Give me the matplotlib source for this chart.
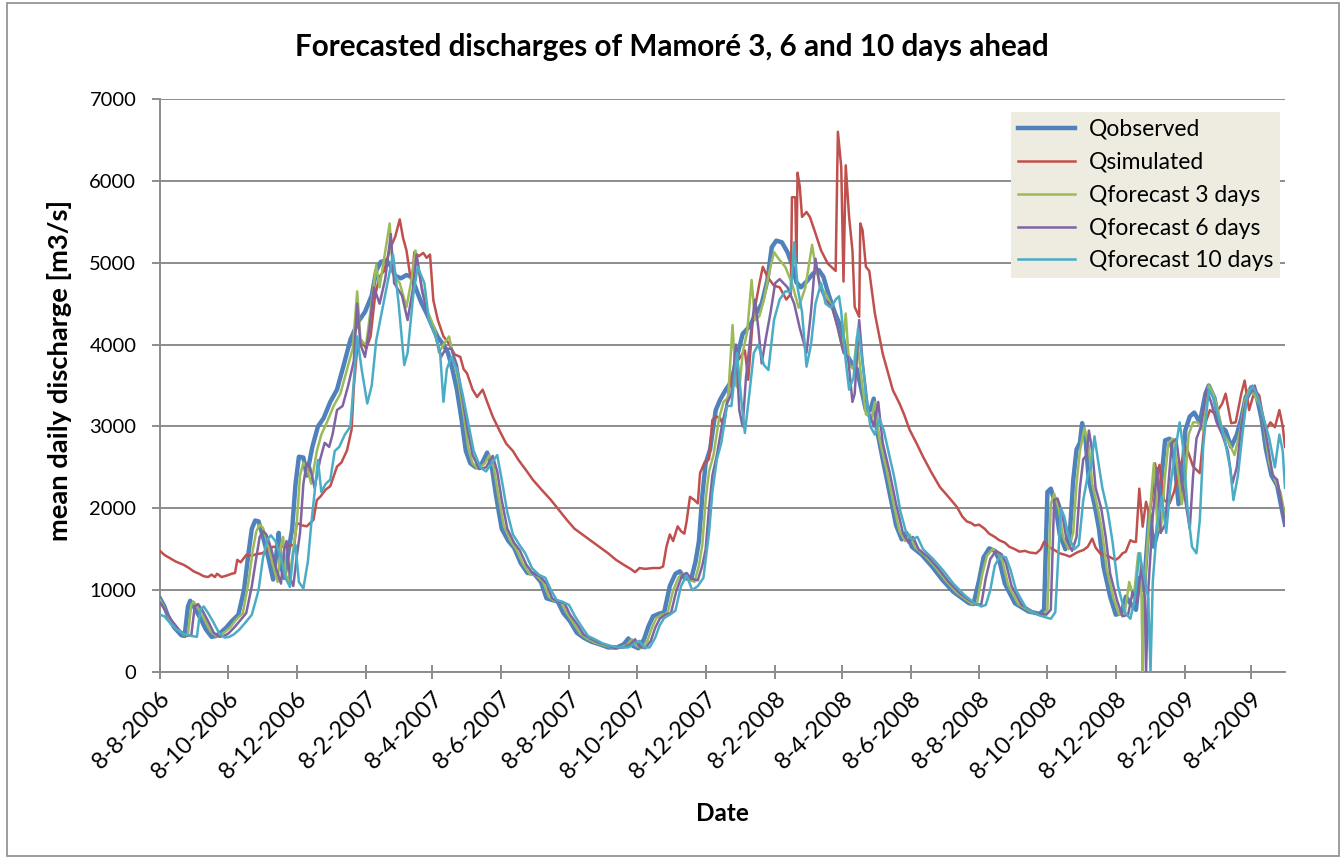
import datetime as dt
import matplotlib
matplotlib.use("Agg")
import matplotlib.pyplot as plt
import matplotlib.dates as mdates
from matplotlib.patches import Rectangle

plt.rcParams['font.family'] = ['Lato', 'DejaVu Sans']

start = dt.date(2006, 8, 8)

# observed discharge (day offset from 8-8-2006, m3/s)
obs_day = [0, 4, 8, 13, 19, 22, 25, 27, 31, 36, 41, 46, 50, 54, 59, 64, 70, 75, 79, 82, 85, 88, 92, 97, 101,
           104, 106, 108, 111, 115, 118, 121, 124, 128, 131, 136, 141, 146, 152, 158, 164, 170, 177, 183, 189,
           193, 197, 202, 206, 210, 215, 220, 224, 228, 233, 238, 243, 248, 253, 257, 261, 265, 269, 273, 277,
           282, 287, 292, 296, 300, 305, 311, 316, 322, 328, 334, 340, 345, 350, 355, 360, 366, 372, 378, 385,
           392, 400, 408, 414, 418, 422, 427, 432, 436, 440, 445, 450, 455, 460, 464, 468, 474, 478, 481, 484,
           487, 491, 496, 500, 505, 510, 515, 520, 526, 532, 537, 542, 546, 550, 555, 560, 564, 568, 572, 577,
           583, 588, 592, 597, 602, 608, 612, 617, 622, 626, 630, 634, 637, 640, 645, 651, 657, 662, 666, 671,
           680, 689, 698, 708, 716, 722, 726, 731, 735, 740, 745, 749, 754, 763, 775, 785, 789, 792, 795, 799,
           803, 808, 812, 815, 818, 821, 823, 826, 829, 834, 838, 842, 848, 853, 858, 862, 866, 871, 874, 878,
           883, 887, 890, 894, 897, 901, 905, 909, 912, 915, 919, 923, 928, 933, 936, 941, 946, 951, 956, 961,
           965, 969, 974, 979, 983, 987, 992, 997, 1001, 1004]
obs_q = [900, 800, 650, 540, 450, 440, 800, 870, 780, 660, 520, 430, 440, 480, 540, 620, 700, 1000, 1450, 1750,
         1850, 1840, 1650, 1380, 1130, 1450, 1700, 1300, 1150, 1500, 1750, 2300, 2630, 2620, 2400, 2750, 3000,
         3100, 3300, 3450, 3750, 4060, 4280, 4400, 4600, 4900, 5010, 5030, 4960, 4840, 4810, 4850, 4830, 4700,
         4520, 4380, 4230, 4090, 4000, 3900, 3700, 3450, 3100, 2700, 2550, 2500, 2540, 2680, 2520, 2150, 1750,
         1600, 1520, 1330, 1210, 1200, 1100, 900, 880, 860, 720, 620, 480, 420, 370, 340, 300, 300, 340, 410,
         320, 290, 400, 560, 680, 710, 730, 1050, 1200, 1230, 1150, 1130, 1350, 1600, 2150, 2550, 2720, 3200,
         3330, 3450, 3550, 3850, 4130, 4220, 4380, 4500, 4780, 5190, 5270, 5250, 5130, 4980, 4760, 4700, 4770,
         4870, 4910, 4830, 4600, 4400, 4200, 3900, 3780, 3700, 3450, 3200, 3200, 3340, 2950, 2600, 2200, 1790,
         1620, 1700, 1530, 1430, 1290, 1130, 980, 900, 840, 830, 1120, 1400, 1510, 1480, 1370, 1080, 840, 740,
         710, 760, 2200, 2240, 2050, 1680, 1500, 1690, 2340, 2720, 2800, 3040, 2840, 2340, 2050, 1750, 1290,
         920, 700, 720, 920, 840, 760, 1150, 1000, 1940, 1530, 1700, 2400, 2830, 2850, 2650, 2050, 2300, 2950,
         3120, 3170, 3050, 3400, 3500, 3350, 3000, 2950, 2750, 2900, 3100, 3360, 3480, 3350, 3100, 2720, 2400,
         2280, 2000, 1800]

# simulated discharge
sim_day = [0, 4, 9, 14, 21, 26, 30, 35, 39, 43, 46, 49, 51, 55, 60, 64, 67, 69, 72, 77, 82, 86, 91, 95, 101,
           108, 116, 120, 122, 127, 131, 137, 140, 143, 148, 152, 158, 162, 167, 171, 173, 176, 180, 184, 188,
           192, 196, 200, 205, 210, 214, 217, 220, 223, 225, 227, 231, 235, 238, 241, 244, 248, 253, 258, 263,
           268, 271, 274, 279, 283, 288, 292, 297, 303, 309, 315, 320, 327, 333, 341, 349, 356, 363, 370, 377,
           384, 392, 400, 407, 415, 420, 424, 428, 433, 440, 446, 449, 452, 455, 458, 462, 465, 468, 470, 473,
           477, 480, 482, 486, 490, 493, 497, 500, 503, 509, 514, 518, 522, 525, 529, 535, 538, 542, 548, 553,
           559, 563, 564, 567, 568, 569, 571, 573, 577, 580, 584, 590, 596, 603, 605, 608, 610, 612, 615, 618,
           620, 624, 625, 627, 630, 633, 638, 645, 654, 660, 664, 669, 675, 681, 688, 696, 703, 711, 716, 720,
           724, 727, 731, 736, 740, 745, 749, 754, 758, 763, 767, 772, 776, 782, 786, 789, 793, 797, 803, 808,
           812, 817, 820, 824, 828, 832, 835, 839, 843, 847, 851, 853, 856, 859, 862, 866, 869, 871, 874, 877,
           880, 883, 886, 888, 890, 892, 896, 901, 905, 910, 916, 922, 928, 932, 937, 942, 948, 951, 956, 960,
           965, 968, 972, 977, 981, 984, 987, 991, 995, 999, 1002, 1004]
sim_q = [1480, 1430, 1390, 1350, 1310, 1270, 1230, 1200, 1170, 1160, 1190, 1160, 1200, 1160, 1180, 1200, 1210,
         1370, 1340, 1430, 1420, 1440, 1450, 1480, 1530, 1530, 1540, 1560, 1820, 1790, 1780, 1860, 2100, 2140,
         2230, 2270, 2510, 2560, 2710, 2960, 3480, 3950, 4050, 3950, 4100, 4600, 4830, 4900, 5160, 5320, 5530,
         5300, 5150, 4870, 4800, 5130, 5080, 5120, 5060, 5100, 4540, 4300, 4100, 4010, 3880, 3850, 3700, 3650,
         3450, 3360, 3450, 3300, 3120, 2950, 2790, 2700, 2590, 2460, 2345, 2220, 2100, 1980, 1860, 1750, 1680,
         1610, 1530, 1450, 1370, 1300, 1260, 1220, 1270, 1260, 1270, 1270, 1290, 1530, 1680, 1600, 1780, 1720,
         1690, 1840, 2140, 2100, 2060, 2430, 2560, 2600, 3080, 3120, 3100, 3000, 3560, 3770, 3850, 3930, 3570,
         4300, 4750, 4950, 4830, 4720, 4700, 4550, 4620, 5800, 5800, 5000, 6100, 5930, 5560, 5620, 5560, 5400,
         5150, 4990, 4900, 6600, 6170, 4770, 6190, 5560, 5150, 4460, 4340, 5480, 5400, 4950, 4900, 4380, 3890,
         3445, 3280, 3150, 2960, 2800, 2630, 2450, 2260, 2150, 2020, 1900, 1840, 1820, 1790, 1800, 1750, 1690,
         1650, 1610, 1580, 1530, 1500, 1470, 1480, 1460, 1450, 1500, 1590, 1530, 1500, 1450, 1430, 1410, 1450,
         1470, 1490, 1530, 1630, 1520, 1450, 1430, 1410, 1380, 1370, 1400, 1450, 1470, 1610, 1590, 1590, 2240,
         1775, 2080, 1920, 2200, 2550, 2400, 2530, 2100, 2060, 2200, 2500, 2750, 2510, 2430, 3000, 3200, 3150,
         3280, 3400, 3040, 3050, 3400, 3560, 3200, 3440, 3380, 3150, 2960, 3050, 2990, 3200, 3000, 2750]

# forecast 3 days ahead
f3_day = [0, 4, 10, 16, 22, 25, 28, 30, 35, 40, 45, 50, 54, 58, 63, 68, 74, 79, 83, 86, 89, 92, 96, 101, 105,
          108, 110, 112, 115, 119, 122, 125, 128, 131, 135, 140, 144, 149, 155, 161, 167, 172, 176, 179, 184,
          188, 193, 196, 200, 205, 208, 214, 220, 225, 228, 233, 239, 245, 249, 253, 258, 262, 267, 271, 275,
          279, 284, 290, 294, 298, 302, 307, 313, 318, 324, 330, 336, 342, 347, 352, 358, 363, 369, 375, 381,
          388, 395, 403, 411, 417, 421, 425, 430, 435, 439, 443, 448, 453, 458, 463, 467, 471, 477, 481, 484,
          487, 490, 494, 499, 503, 507, 511, 514, 517, 520, 524, 528, 531, 535, 539, 544, 548, 552, 558, 564,
          570, 576, 582, 585, 590, 595, 600, 605, 609, 612, 615, 619, 622, 625, 630, 635, 638, 642, 648, 654,
          660, 665, 669, 674, 683, 692, 701, 711, 719, 725, 729, 734, 738, 743, 748, 752, 757, 766, 778, 788,
          792, 795, 798, 802, 806, 811, 815, 818, 821, 825, 829, 832, 837, 841, 845, 851, 856, 861, 865, 869,
          873, 875, 876, 877, 878, 882, 887, 890, 893, 897, 900, 904, 908, 912, 915, 918, 922, 926, 931, 936,
          940, 944, 949, 954, 959, 964, 968, 972, 977, 982, 986, 990, 995, 1000, 1004]
f3_q = [880, 780, 620, 520, 450, 460, 820, 860, 760, 640, 500, 440, 450, 490, 550, 640, 720, 1100, 1500, 1720,
        1800, 1760, 1580, 1300, 1100, 1550, 1650, 1200, 1100, 1500, 1800, 2400, 2560, 2500, 2300, 2700, 2900,
        3050, 3250, 3400, 3700, 3950, 4650, 4050, 4000, 4420, 4970, 4700, 5050, 5480, 4870, 4750, 4460, 4830,
        5150, 4750, 4400, 4200, 3900, 4000, 4100, 3850, 3500, 3150, 2750, 2550, 2480, 2550, 2650, 2500, 2150,
        1780, 1600, 1500, 1320, 1200, 1180, 1100, 920, 870, 850, 720, 600, 470, 410, 360, 330, 300, 300, 330,
        400, 320, 290, 380, 540, 660, 700, 720, 1000, 1160, 1200, 1150, 1100, 1300, 1550, 2100, 2450, 2650,
        3100, 3300, 3350, 4240, 3500, 3450, 3900, 4150, 4790, 4300, 4350, 4550, 4900, 5130, 5050, 4950, 4750,
        4450, 4700, 5220, 4950, 4700, 4600, 4450, 4200, 3950, 4380, 3750, 3700, 4100, 3700, 3150, 3100, 3300,
        2850, 2500, 2100, 1720, 1600, 1680, 1520, 1420, 1280, 1120, 970, 890, 830, 830, 1200, 1420, 1500, 1460,
        1350, 1060, 830, 730, 700, 760, 2050, 2180, 2000, 1650, 1500, 1700, 2300, 2700, 2980, 2750, 2300, 2000,
        1700, 1250, 900, 700, 720, 1100, 900, 1450, 1450, 900, 0, 900, 1700, 2550, 1800, 1700, 2400, 2800, 2850,
        2500, 2050, 2350, 2900, 3050, 3050, 2950, 3500, 3400, 3200, 2900, 2800, 2650, 2950, 3300, 3450, 3380,
        3250, 2950, 2550, 2350, 2200, 1900]

# forecast 6 days ahead
f6_day = [0, 5, 11, 18, 24, 28, 31, 34, 38, 43, 48, 53, 57, 61, 66, 71, 77, 82, 86, 89, 92, 95, 99, 104, 108,
          111, 113, 116, 119, 122, 125, 128, 131, 134, 138, 143, 147, 151, 154, 158, 163, 168, 173, 176, 179,
          183, 187, 191, 196, 201, 206, 209, 216, 221, 226, 229, 234, 240, 246, 251, 255, 260, 265, 270, 274,
          279, 285, 291, 297, 301, 305, 310, 316, 321, 327, 333, 339, 345, 350, 355, 361, 366, 372, 378, 384,
          391, 398, 406, 414, 420, 424, 428, 433, 438, 442, 446, 451, 456, 461, 466, 470, 474, 480, 484, 487,
          490, 493, 497, 502, 506, 510, 514, 517, 520, 523, 527, 531, 534, 537, 541, 545, 549, 553, 560, 566,
          571, 577, 581, 585, 589, 594, 600, 605, 610, 614, 618, 620, 624, 627, 632, 637, 641, 645, 651, 657,
          663, 668, 672, 677, 686, 695, 704, 714, 722, 729, 733, 737, 741, 746, 751, 755, 760, 769, 781, 791,
          795, 798, 801, 805, 809, 814, 818, 821, 824, 827, 829, 832, 835, 840, 844, 848, 854, 859, 864, 868,
          872, 876, 879, 880, 882, 886, 890, 893, 897, 900, 903, 907, 911, 915, 919, 922, 925, 929, 934, 938,
          943, 948, 953, 957, 961, 965, 969, 973, 977, 981, 985, 989, 993, 997, 1001, 1004]
f6_q = [850, 750, 620, 500, 440, 450, 800, 830, 750, 620, 480, 430, 440, 470, 540, 620, 720, 1050, 1400, 1650,
        1720, 1680, 1520, 1250, 1080, 1500, 1600, 1150, 1050, 1400, 1700, 2300, 2550, 2500, 2250, 2600, 2800,
        2750, 2900, 3200, 3250, 3500, 3800, 4500, 4000, 3850, 4200, 4700, 4500, 4800, 5350, 4750, 4600, 4300,
        4700, 5100, 4650, 4300, 4100, 3850, 3950, 3950, 3750, 3350, 3000, 2650, 2480, 2500, 2640, 2450, 2100,
        1750, 1580, 1490, 1310, 1200, 1170, 1080, 900, 860, 840, 700, 590, 460, 410, 360, 330, 290, 300, 340,
        400, 310, 290, 380, 540, 650, 700, 720, 1000, 1180, 1210, 1140, 1120, 1300, 1500, 2000, 2400, 2650,
        3050, 3280, 3400, 4000, 3200, 3000, 3600, 4100, 4550, 4200, 3770, 4100, 4400, 4750, 4800, 4700, 4500,
        4200, 3900, 4400, 5050, 4700, 4550, 4450, 4200, 3900, 3850, 3300, 3400, 4300, 3800, 3200, 3000, 3300,
        2800, 2450, 2050, 1700, 1580, 1650, 1500, 1400, 1260, 1100, 960, 880, 820, 830, 1150, 1380, 1480, 1440,
        1330, 1050, 820, 720, 700, 760, 2100, 2120, 1950, 1620, 1480, 1650, 2250, 2600, 2650, 2950, 2700, 2250,
        2000, 1650, 1200, 880, 680, 700, 980, 850, 1300, 900, 0, 1000, 1900, 2490, 1700, 1800, 2300, 2800, 2850,
        2400, 2100, 1750, 2400, 2850, 3000, 3450, 3300, 3050, 2900, 2700, 2300, 2500, 3000, 3300, 3400, 3500,
        3300, 3050, 2750, 2400, 2350, 2050, 1800]

# forecast 10 days ahead
f10_day = [0, 4, 9, 15, 22, 28, 33, 36, 39, 43, 48, 53, 58, 62, 66, 71, 76, 82, 88, 92, 96, 99, 103, 108, 112,
           116, 119, 121, 124, 128, 132, 135, 138, 141, 144, 148, 152, 156, 160, 165, 170, 176, 180, 185, 189,
           193, 198, 203, 208, 213, 218, 221, 226, 230, 236, 240, 246, 250, 253, 256, 260, 265, 270, 275, 280,
           286, 291, 296, 301, 305, 310, 315, 321, 326, 332, 338, 344, 349, 354, 359, 365, 370, 376, 382, 388,
           395, 402, 410, 418, 424, 428, 432, 437, 442, 446, 450, 455, 460, 465, 470, 475, 480, 485, 490, 493,
           497, 501, 506, 510, 515, 519, 522, 526, 530, 534, 539, 543, 548, 553, 558, 563, 566, 569, 573, 577,
           581, 585, 590, 594, 599, 603, 606, 608, 612, 615, 619, 623, 626, 630, 634, 638, 642, 646, 650, 655,
           661, 666, 671, 676, 681, 690, 699, 708, 718, 726, 733, 737, 741, 745, 750, 755, 759, 764, 773, 785,
           795, 799, 802, 804, 807, 811, 816, 820, 824, 828, 831, 834, 837, 841, 846, 850, 855, 861, 866, 870,
           874, 878, 882, 884, 886, 890, 894, 898, 902, 906, 910, 913, 917, 921, 925, 928, 931, 936, 940, 945,
           950, 955, 958, 962, 966, 970, 975, 980, 985, 990, 995, 999, 1002, 1004]
f10_q = [700, 680, 600, 520, 460, 440, 430, 760, 800, 720, 600, 470, 420, 430, 460, 520, 600, 700, 1000, 1400,
         1620, 1670, 1600, 1400, 1150, 1040, 1450, 1550, 1100, 1020, 1350, 1800, 2200, 2590, 2200, 2300, 2350,
         2700, 2750, 2900, 3000, 4100, 3700, 3280, 3500, 4050, 4400, 4750, 5100, 4500, 3750, 3900, 4600, 4950,
         4750, 4300, 4100, 3900, 3300, 3700, 3850, 3700, 3400, 3050, 2700, 2500, 2450, 2550, 2650, 2350, 1950,
         1680, 1550, 1450, 1270, 1190, 1150, 1000, 880, 860, 820, 690, 560, 440, 400, 350, 320, 300, 300, 350,
         380, 300, 300, 420, 570, 660, 700, 750, 1050, 1180, 1000, 1050, 1150, 1700, 2200, 2600, 2800, 3250,
         3250, 3900, 3300, 2920, 3400, 3900, 4000, 3750, 3690, 4300, 4550, 4650, 4650, 5250, 4700, 4400, 3730,
         4000, 4500, 4750, 4500, 4450, 4550, 4590, 4400, 3800, 3450, 3600, 4200, 3900, 3400, 3000, 2900, 3100,
         2950, 2700, 2400, 1950, 1700, 1620, 1650, 1500, 1380, 1240, 1080, 940, 850, 800, 820, 1000, 1300, 1420,
         1400, 1250, 1000, 780, 690, 650, 730, 1500, 2000, 1900, 1650, 1500, 1550, 2100, 2400, 2500, 2880, 2600,
         2250, 1950, 1600, 1050, 730, 650, 900, 1450, 1200, 900, 0, 1100, 1800, 2140, 1700, 2300, 2700, 3050,
         2750, 2000, 1530, 1450, 1860, 2750, 3450, 3350, 3100, 2850, 2500, 2100, 2400, 2900, 3350, 3500, 3350,
         3100, 2850, 2500, 2900, 2700, 2250]


def to_dates(days):
    return [start + dt.timedelta(days=d) for d in days]


fig = plt.figure(figsize=(13.43, 8.59), dpi=100)
ax = fig.add_axes([0.1191, 0.2177, 0.8377, 0.667])

ax.plot(to_dates(obs_day), obs_q, color='#4F81BD', lw=3.2, label='Qobserved', zorder=3)
ax.plot(to_dates(sim_day), sim_q, color='#C0504D', lw=1.8, label='Qsimulated', zorder=4)
ax.plot(to_dates(f3_day), f3_q, color='#9BBB59', lw=1.8, label='Qforecast 3 days', zorder=5)
ax.plot(to_dates(f6_day), f6_q, color='#8064A2', lw=1.8, label='Qforecast 6 days', zorder=6)
ax.plot(to_dates(f10_day), f10_q, color='#4BACC6', lw=1.8, label='Qforecast 10 days', zorder=7)

ax.set_xlim(start, start + dt.timedelta(days=1004))
ax.set_ylim(0, 7000)
ax.set_yticks(range(0, 7001, 1000))
ax.yaxis.grid(True, color='#8C8C8C', lw=1.4)
ax.set_axisbelow(True)

ax.xaxis.set_major_locator(mdates.MonthLocator(bymonth=[2, 4, 6, 8, 10, 12], bymonthday=8))
ax.xaxis.set_major_formatter(plt.FuncFormatter(
    lambda v, pos: '{0.day}-{0.month}-{0.year}'.format(mdates.num2date(v))))
plt.setp(ax.get_xticklabels(), rotation=45, ha='right', rotation_mode='anchor')

for side in ['top', 'right']:
    ax.spines[side].set_visible(False)
for side in ['left', 'bottom']:
    ax.spines[side].set_color('#8C8C8C')
    ax.spines[side].set_linewidth(1.4)
ax.tick_params(axis='x', direction='inout', length=10, width=1.4, color='#8C8C8C', labelsize=17, pad=6)
ax.tick_params(axis='y', direction='out', length=6, width=1.4, color='#8C8C8C', labelsize=14.5, pad=11)

fig.text(0.5, 0.9453, 'Forecasted discharges of Mamoré 3, 6 and 10 days ahead', fontsize=21.3,
         fontweight='bold', ha='center', va='center')
ax.set_ylabel('mean daily discharge [m3/s]', fontsize=19.7, fontweight='bold')
ax.yaxis.set_label_coords(-0.078, 0.527)
ax.set_xlabel('Date', fontsize=17.5, fontweight='bold', labelpad=14)

leg = ax.legend(loc='upper right', bbox_to_anchor=(0.9955, 0.9775), fontsize=16.5, frameon=True,
                fancybox=False, handlelength=2.5, handletextpad=0.6, borderpad=0.3, labelspacing=0.52,
                borderaxespad=0)
leg.get_frame().set_facecolor('#EEECE1')
leg.get_frame().set_edgecolor('none')
leg.get_frame().set_alpha(1)

# thin border around the whole chart
fig.patches.append(Rectangle((0.005, 0.004), 0.992, 0.993, transform=fig.transFigure,
                             fill=False, edgecolor='#8C8C8C', lw=1.2))

fig.savefig('out.png', dpi=100)
